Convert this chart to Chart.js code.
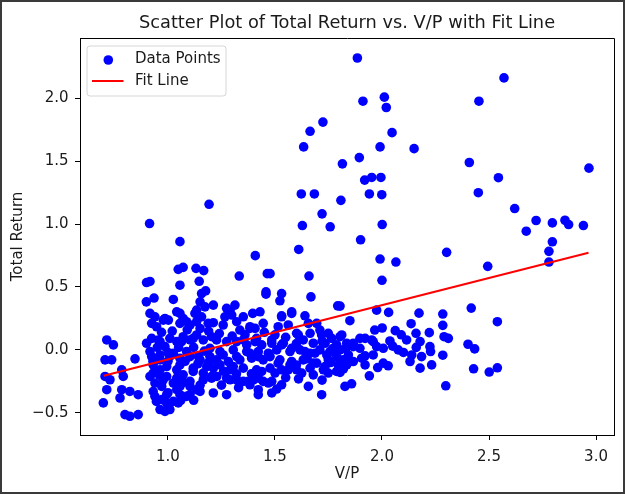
<!DOCTYPE html>
<html><head><meta charset="utf-8">
<script src="https://cdn.jsdelivr.net/npm/chart.js@4.4.1/dist/chart.umd.min.js"></script>
<style>
html,body{margin:0;padding:0;background:#fff;}
#wrap{position:relative;width:625px;height:494px;}
canvas{display:block;}
</style></head><body>
<div id="wrap"><canvas id="c" width="625" height="494"></canvas></div>
<script>
// V/P values (x) and Total Return values (y)
const vpRatio = [
  // upper outliers
  1.885,1.911,2.011,2.020,1.724,1.664,2.047,1.634,1.991,2.150,
  1.894,1.815,1.919,1.952,1.995,1.623,1.684,1.941,1.999,1.808,
  1.720,1.628,1.758,2.001,1.900,1.611,1.991,2.065,1.477,1.659,2.000,
  // right side
  2.570,2.453,2.408,2.967,2.544,2.450,2.620,2.720,2.674,2.796,
  2.855,2.872,2.941,2.796,2.780,2.780,2.302,2.494,2.417,2.284,
  2.284,2.539,2.290,2.310,2.402,2.433,2.284,2.428,2.501,2.539,2.298,
  // left upper
  1.192,0.914,1.056,1.408,1.048,1.071,1.131,1.167,1.333,1.464,
  0.900,0.916,1.056,1.146,1.176,1.157,1.458,0.899,0.935,1.025,
  // cluster around 2.0
  1.975,2.031,2.173,1.850,2.136,1.804,1.966,2.001,2.062,2.221,
  2.159,1.804,1.897,1.952,1.835,1.866,2.037,2.115,2.178,2.224,
  1.975,2.006,2.076,1.804,1.897,2.139,2.185,2.227,1.835,1.866,
  1.921,1.959,2.006,2.029,2.131,2.178,2.232,1.804,1.941,1.858,
  // cluster 1.2 - 1.85
  1.458,1.531,1.523,1.668,1.793,1.212,1.313,1.290,1.266,1.396,
  1.531,1.578,1.640,1.212,1.258,1.321,1.445,1.515,1.562,1.656,
  1.695,1.336,1.383,1.601,1.664,1.710,1.749,1.227,1.274,1.352,
  1.414,1.485,1.539,1.632,1.679,1.734,1.788,1.196,1.243,1.305,
  1.368,1.422,1.469,1.508,1.570,1.617,1.664,1.710,1.757,1.227,
  1.282,1.336,1.391,1.445,1.515,1.570,1.632,1.695,1.749,1.819,
  1.212,1.290,1.352,1.414,1.477,1.531,1.601,1.664,1.726,1.788,
  1.835,1.204,1.274,1.321,1.375,1.422,1.485,1.531,1.656,1.212,
  1.274,1.445,1.508,1.718,1.827,
  // cluster 0.7 - 1.2
  1.056,1.041,1.150,1.173,0.916,0.939,0.978,1.002,0.924,0.947,
  1.056,1.087,1.126,1.134,1.188,0.900,0.924,0.963,0.986,1.009,
  1.041,1.071,1.103,1.134,1.165,1.204,0.714,0.745,0.706,0.737,
  0.846,0.924,0.963,1.009,1.056,1.103,1.150,1.196,0.706,0.729,
  0.784,0.791,0.714,0.784,0.822,0.861,0.776,0.698,0.799,0.822,
  0.861,0.931,0.963,0.994,1.041,1.071,1.118,1.165,1.204,0.939,
  0.971,1.025,1.056,1.103,1.134,0.939,0.971,0.994,1.025,0.963,
  0.986,1.056,1.087,
  // dense 0.9 - 1.4
  1.134,1.157,0.986,1.071,1.103,1.274,1.298,1.352,1.383,0.955,
  1.064,1.118,1.321,1.368,1.407,0.916,0.963,1.025,1.087,1.142,
  1.258,1.321,1.383,0.931,0.994,1.056,1.118,1.181,1.243,1.305,
  0.916,0.978,1.041,1.103,1.165,1.228,1.290,1.352,1.399,0.931,
  0.994,1.041,1.103,1.150,1.383,1.422,0.946,1.048,1.009,
  // dense 1.4 - 1.95
  1.430,1.407,1.531,1.578,1.609,1.718,1.765,1.812,1.866,1.921,
  1.959,1.438,1.485,1.531,1.578,1.640,1.687,1.742,1.788,1.843,
  1.905,1.422,1.477,1.523,1.578,1.679,1.734,1.796,1.921,1.438,
  1.500,1.562,1.625,1.679,1.749,1.469,1.422,1.485,
  // hidden points inside the dense blobs
  1.02,1.09,1.15,1.19,0.97,1.24,1.30,1.36,1.25,1.33,
  1.39,1.26,1.32,1.45,1.50,1.55,1.60,1.72,1.77,1.83,
  1.60,1.65,1.76,1.82,1.55,1.61,1.72,2.05,2.10,2.16,
  2.09,1.98,0.95,1.00,1.05,1.12,1.17,0.93,1.00,1.08,
  1.14,1.19,0.96,1.07,1.15,1.00,1.06,1.12
];
const totalReturn = [
  // upper outliers
  2.319,1.976,2.008,1.926,1.810,1.737,1.726,1.613,1.613,1.599,
  1.528,1.478,1.349,1.370,1.370,1.239,1.239,1.239,1.233,1.188,
  1.081,0.988,0.978,0.996,0.875,0.798,0.722,0.698,0.606,0.587,0.553,
  // right side
  2.161,1.976,1.489,1.444,1.368,1.249,1.123,1.028,0.943,1.009,
  1.030,0.996,0.988,0.859,0.783,0.698,0.775,0.664,0.332,0.285,
  0.195,0.224,0.105,0.092,0.045,0.008,-0.042,-0.150,-0.176,-0.142,-0.285,
  // left upper
  1.157,1.004,0.860,0.749,0.640,0.656,0.648,0.630,0.587,0.606,
  0.535,0.544,0.514,0.545,0.469,0.448,0.461,0.382,0.412,0.401,
  // cluster around 2.0
  0.316,0.298,0.292,0.232,0.208,0.348,0.158,0.174,0.153,0.137,
  0.132,0.105,0.092,0.079,0.053,0.026,0.071,0.079,0.066,0.026,
  0.026,0.013,0.000,0.000,0.013,-0.040,-0.053,-0.013,-0.079,-0.092,
  -0.047,-0.040,-0.105,-0.126,-0.092,-0.145,-0.119,-0.179,-0.206,-0.269,
  // cluster 1.2 - 1.85
  0.443,0.448,0.390,0.421,0.350,0.356,0.356,0.316,0.263,0.290,
  0.271,0.290,0.271,0.216,0.198,0.224,0.211,0.184,0.198,0.211,
  0.211,0.158,0.171,0.132,0.132,0.158,0.132,0.079,0.066,0.079,
  0.092,0.079,0.053,0.079,0.053,0.053,0.040,0.013,-0.013,0.000,
  -0.013,-0.013,-0.026,0.000,-0.013,0.000,-0.026,0.000,-0.013,-0.079,
  -0.092,-0.079,-0.066,-0.079,-0.105,-0.119,-0.079,-0.105,-0.079,-0.079,
  -0.145,-0.158,-0.145,-0.158,-0.145,-0.158,-0.158,-0.145,-0.158,-0.171,
  -0.119,-0.224,-0.224,-0.237,-0.250,-0.224,-0.250,-0.277,-0.290,-0.342,
  -0.356,-0.250,-0.311,-0.356,-0.290,
  // cluster 0.7 - 1.2
  0.290,0.303,0.382,0.342,0.290,0.263,0.237,0.237,0.211,0.184,
  0.211,0.224,0.290,0.224,0.211,0.053,0.092,0.066,0.026,0.092,
  0.066,0.105,0.079,0.119,0.079,0.105,0.079,0.040,-0.079,-0.079,
  -0.071,-0.053,-0.079,-0.053,-0.066,-0.053,-0.079,-0.053,-0.211,-0.237,
  -0.158,-0.211,-0.316,-0.316,-0.330,-0.356,-0.382,-0.421,-0.514,-0.527,
  -0.514,-0.184,-0.158,-0.211,-0.158,-0.198,-0.171,-0.184,-0.211,-0.263,
  -0.290,-0.263,-0.290,-0.290,-0.316,-0.369,-0.395,-0.421,-0.409,-0.474,
  -0.488,-0.356,-0.369,
  // dense 0.9 - 1.4
  0.316,0.263,0.250,0.250,0.198,0.330,0.277,0.263,0.184,0.079,
  0.066,0.092,0.066,0.040,0.066,-0.013,-0.040,-0.026,-0.013,-0.053,
  -0.040,-0.053,-0.026,-0.119,-0.132,-0.119,-0.145,-0.132,-0.119,-0.132,
  -0.211,-0.237,-0.224,-0.250,-0.237,-0.211,-0.237,-0.250,-0.237,-0.330,
  -0.356,-0.316,-0.356,-0.330,-0.277,-0.356,-0.409,-0.421,-0.474,
  // dense 1.4 - 1.95
  0.303,0.171,0.263,0.303,0.119,0.119,0.092,0.119,0.053,0.092,
  0.066,0.040,0.053,0.040,0.013,-0.013,-0.026,-0.040,-0.053,-0.040,
  -0.066,-0.053,-0.053,-0.079,-0.092,-0.105,-0.132,-0.119,-0.119,-0.171,
  -0.184,-0.158,-0.184,-0.198,-0.184,-0.263,-0.316,-0.342,
  // hidden points inside the dense blobs
  0.15,0.16,0.17,0.15,0.14,0.13,0.11,0.12,-0.28,-0.30,
  -0.19,-0.17,-0.19,0.14,0.12,0.10,0.05,0.07,0.01,0.01,
  -0.12,-0.07,-0.10,-0.15,-0.22,-0.23,-0.24,0.03,-0.02,0.02,
  0.12,-0.14,0.02,-0.02,0.02,0.02,-0.01,-0.09,-0.09,-0.09,
  -0.11,-0.10,-0.20,-0.26,-0.28,-0.34,-0.40,-0.40
];
// Fit line end points
const fitX = [0.700, 2.965];
const fitY = [-0.205, 0.772];
// Axis ticks and limits
const xTicks = [1.0, 1.5, 2.0, 2.5, 3.0];
const yTicks = [-0.5, 0.0, 0.5, 1.0, 1.5, 2.0];
const xLimits = [0.589, 3.084];
const yLimits = [-0.676, 2.478];
// Texts
const titleText = 'Scatter Plot of Total Return vs. V/P with Fit Line';
const xLabel = 'V/P';
const yLabel = 'Total Return';
const seriesNames = ['Data Points', 'Fit Line'];

const FONT = "'DejaVu Sans', sans-serif";
const TEXT = '#1a1a1a';
const POINT_COLOR = '#0000ff';
const LINE_COLOR = '#ff0000';

const scatterData = vpRatio.map((x, i) => ({x: x, y: totalReturn[i]}));
const fitData = fitX.map((x, i) => ({x: x, y: fitY[i]}));

const decorPlugin = {
  id: 'decor',
  afterDatasetsDraw(chart) {
    const {ctx, chartArea: ca} = chart;
    ctx.save();
    ctx.strokeStyle = '#000';
    ctx.lineWidth = 1;
    ctx.beginPath();
    ctx.moveTo(Math.round(ca.left) + 0.5, Math.round(ca.top) + 0.5);
    ctx.lineTo(Math.round(ca.right) + 0.5, Math.round(ca.top) + 0.5);
    ctx.lineTo(Math.round(ca.right) + 0.5, Math.round(ca.bottom) + 0.5);
    ctx.stroke();
    ctx.restore();
  },
  afterDraw(chart) {
    const {ctx, chartArea: ca} = chart;
    const cx = (ca.left + ca.right) / 2;
    const cy = (ca.top + ca.bottom) / 2;
    ctx.save();
    // title
    ctx.fillStyle = TEXT;
    ctx.textAlign = 'center';
    ctx.textBaseline = 'middle';
    ctx.font = '17.8px ' + FONT;
    ctx.fillText(titleText, cx, 23);
    // axis labels
    ctx.font = '15px ' + FONT;
    ctx.fillText(xLabel, cx, 474);
    ctx.save();
    ctx.translate(18.5, cy);
    ctx.rotate(-Math.PI / 2);
    ctx.fillText(yLabel, 0, 0);
    ctx.restore();
    // legend
    const lx = 87, ly = 46, lw = 139, lh = 50, r = 3;
    ctx.beginPath();
    ctx.moveTo(lx + r, ly);
    ctx.lineTo(lx + lw - r, ly);
    ctx.quadraticCurveTo(lx + lw, ly, lx + lw, ly + r);
    ctx.lineTo(lx + lw, ly + lh - r);
    ctx.quadraticCurveTo(lx + lw, ly + lh, lx + lw - r, ly + lh);
    ctx.lineTo(lx + r, ly + lh);
    ctx.quadraticCurveTo(lx, ly + lh, lx, ly + lh - r);
    ctx.lineTo(lx, ly + r);
    ctx.quadraticCurveTo(lx, ly, lx + r, ly);
    ctx.closePath();
    ctx.fillStyle = 'rgba(255,255,255,0.8)';
    ctx.fill();
    ctx.strokeStyle = '#d6d6d6';
    ctx.lineWidth = 1;
    ctx.stroke();
    ctx.fillStyle = POINT_COLOR;
    ctx.beginPath();
    ctx.arc(108.3, 60, 4.8, 0, Math.PI * 2);
    ctx.fill();
    ctx.strokeStyle = LINE_COLOR;
    ctx.lineWidth = 2;
    ctx.beginPath();
    ctx.moveTo(92, 81);
    ctx.lineTo(123.5, 81);
    ctx.stroke();
    ctx.fillStyle = TEXT;
    ctx.textAlign = 'left';
    ctx.font = '15px ' + FONT;
    ctx.fillText(seriesNames[0], 135, 59.5);
    ctx.fillText(seriesNames[1], 135, 81);
    // outer screenshot frame
    ctx.strokeStyle = '#3a3a3a';
    ctx.lineWidth = 2;
    ctx.strokeRect(1, 1, chart.width - 2, chart.height - 2);
    ctx.restore();
  }
};

new Chart(document.getElementById('c'), {
  type: 'scatter',
  data: {
    datasets: [
      {
        type: 'line',
        label: seriesNames[1],
        data: fitData,
        borderColor: LINE_COLOR,
        borderWidth: 2,
        pointRadius: 0,
        fill: false,
        order: 0
      },
      {
        type: 'scatter',
        label: seriesNames[0],
        data: scatterData,
        backgroundColor: POINT_COLOR,
        borderWidth: 0,
        pointRadius: 4.8,
        pointHoverRadius: 4.8,
        order: 1
      }
    ]
  },
  options: {
    responsive: false,
    devicePixelRatio: 1,
    animation: false,
    layout: {padding: {top: 38, right: 11, left: 0, bottom: 0}},
    plugins: {
      legend: {display: false},
      title: {display: false},
      tooltip: {enabled: false}
    },
    scales: {
      x: {
        type: 'linear',
        min: xLimits[0],
        max: xLimits[1],
        afterBuildTicks: s => { s.ticks = xTicks.map(v => ({value: v})); },
        afterFit: s => { s.height = 59; },
        ticks: {
          callback: v => Number(v).toFixed(1),
          font: {family: FONT, size: 15},
          color: TEXT,
          padding: 8,
          maxRotation: 0,
          autoSkip: false
        },
        grid: {display: true, drawOnChartArea: false, drawTicks: true, tickLength: 5, color: '#000', lineWidth: 1},
        border: {display: true, color: '#000', width: 1}
      },
      y: {
        type: 'linear',
        min: yLimits[0],
        max: yLimits[1],
        afterBuildTicks: s => { s.ticks = yTicks.map(v => ({value: v})); },
        afterFit: s => { s.width = 80; },
        ticks: {
          callback: v => (v < 0 ? '\u2212' : '') + Math.abs(Number(v)).toFixed(1),
          font: {family: FONT, size: 15},
          color: TEXT,
          padding: 6.5,
          autoSkip: false
        },
        grid: {display: true, drawOnChartArea: false, drawTicks: true, tickLength: 5, color: '#000', lineWidth: 1},
        border: {display: true, color: '#000', width: 1}
      }
    }
  },
  plugins: [decorPlugin]
});
</script>
</body></html>
